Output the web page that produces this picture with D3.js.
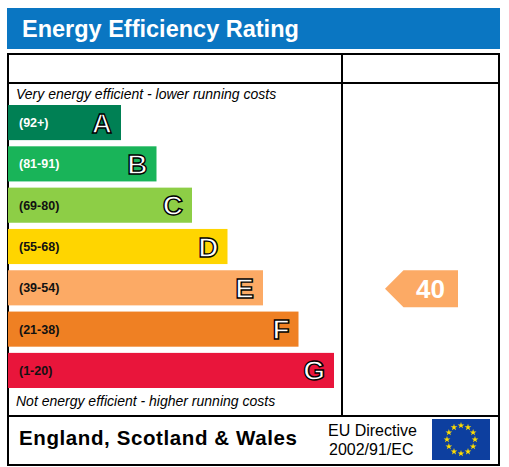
<!DOCTYPE html>
<html><head><meta charset="utf-8">
<script src="https://cdn.jsdelivr.net/npm/d3@7"></script>
<style>body{margin:0;background:#fff}text{font-family:Arial,"Liberation Sans",sans-serif}</style>
</head><body><svg id="c" width="509" height="467"></svg>
<script>
// ratings data
let bands = ["A", "B", "C", "D", "E", "F", "G"];
let ranges = ["(92+)", "(81-91)", "(69-80)", "(55-68)", "(39-54)", "(21-38)", "(1-20)"];
let colors = ["#008054", "#19b459", "#8dce46", "#ffd500", "#fcaa65", "#ef8023", "#e9153b"];
let current = 40, currentBand = "E", currentColor = "#fcaa65";

let svg = d3.select("#c");

// header
svg.append("rect").attr("x", 7).attr("y", 8).attr("width", 493).attr("height", 41).attr("fill", "#0a76c2");
svg.append("text").attr("x", 22).attr("y", 37).attr("fill", "#fff").attr("font-size", 23.5)
  .attr("font-weight", "bold").text("Energy Efficiency Rating");

// frame
let g = svg.append("g").attr("fill", "none").attr("stroke", "#000").attr("stroke-width", 2);
g.append("rect").attr("x", 8).attr("y", 54).attr("width", 491).attr("height", 411);
g.append("line").attr("x1", 8).attr("x2", 499).attr("y1", 83).attr("y2", 83);
g.append("line").attr("x1", 8).attr("x2", 499).attr("y1", 416).attr("y2", 416);
g.append("line").attr("x1", 342).attr("x2", 342).attr("y1", 54).attr("y2", 416);

svg.append("text").attr("x", 16).attr("y", 99).attr("font-size", 14).attr("font-style", "italic")
  .text("Very energy efficient - lower running costs");
svg.append("text").attr("x", 16).attr("y", 406).attr("font-size", 14).attr("font-style", "italic")
  .text("Not energy efficient - higher running costs");

// scales
let y = d3.scaleBand().domain(bands).range([105, 388]).paddingInner(0.15).paddingOuter(0);
let w = d3.scaleLinear().domain([0, 6]).range([113, 326]);

let bar = svg.selectAll("g.bar").data(bands).enter().append("g").attr("class", "bar");
bar.append("rect")
  .attr("x", 8).attr("y", d => y(d))
  .attr("width", (d, i) => w(i)).attr("height", y.bandwidth())
  .attr("fill", (d, i) => colors[i]);
bar.append("text")
  .attr("x", 19).attr("y", d => y(d) + y.bandwidth() / 2 + 4.5)
  .attr("font-size", 12.5).attr("font-weight", "bold")
  .attr("fill", (d, i) => i < 2 ? "#fff" : "#111")
  .text((d, i) => ranges[i]);
bar.append("text")
  .attr("x", (d, i) => 8 + w(i) - 9).attr("y", d => y(d) + y.bandwidth() / 2 + 10)
  .attr("text-anchor", "end").attr("font-size", 28).attr("font-weight", "bold")
  .attr("fill", "#fff").attr("stroke", "#000").attr("stroke-width", 1.4)
  .text(d => d);

// current rating arrow
let ay = y(currentBand) + y.bandwidth() / 2 + 1;
let ah = 37, ax = 385, aw = 73;
svg.append("path")
  .attr("d", `M${ax},${ay} L${ax + ah / 2},${ay - ah / 2} L${ax + aw},${ay - ah / 2} L${ax + aw},${ay + ah / 2} L${ax + ah / 2},${ay + ah / 2} Z`)
  .attr("fill", currentColor);
svg.append("text").attr("x", ax + aw - 13).attr("y", ay + 9).attr("text-anchor", "end")
  .attr("font-size", 26).attr("font-weight", "bold").attr("fill", "#fff").text(current);

// footer
svg.append("text").attr("x", 19).attr("y", 445).attr("font-size", 20.5).attr("font-weight", "bold")
  .attr("font-family", "DejaVu Sans").attr("letter-spacing", 0.6).text("England, Scotland & Wales");
svg.append("text").attr("x", 328).attr("y", 436).attr("font-size", 16).text("EU Directive");
svg.append("text").attr("x", 329).attr("y", 455).attr("font-size", 16).text("2002/91/EC");
svg.append("rect").attr("x", 432).attr("y", 419).attr("width", 58).attr("height", 41).attr("fill", "#0d3f9f");
let stars = d3.range(12).map(i => i * Math.PI / 6);
svg.selectAll("path.star").data(stars).enter().append("path").attr("class", "star")
  .attr("d", d3.symbol(d3.symbolStar, 14))
  .attr("transform", d => `translate(${461 + 14 * Math.sin(d)},${439.5 - 14 * Math.cos(d)})`)
  .attr("fill", "#ffdd00");
</script></body></html>
